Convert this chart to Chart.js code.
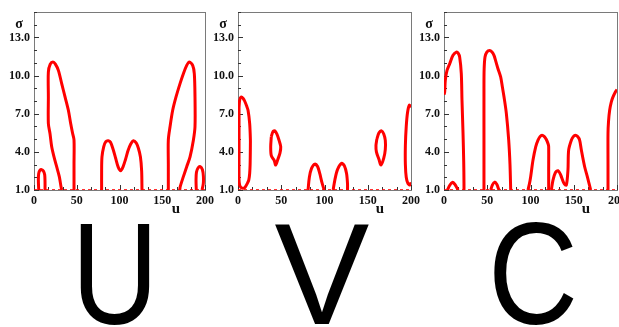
<!DOCTYPE html>
<html>
<head>
<meta charset="utf-8">
<script src="https://cdn.jsdelivr.net/npm/chart.js@4.4.1/dist/chart.umd.min.js"></script>
<style>
  html, body { margin: 0; padding: 0; background: #ffffff; }
  #wrap { position: relative; width: 619px; height: 327px; overflow: hidden; background: #fff; }
  canvas { position: absolute; top: 0; }
  .big { position: absolute; width: 200px; text-align: center; font-family: "Liberation Sans", Arial, sans-serif;
         font-size: 145px; line-height: 145px; top: 202px; color: #000; transform-origin: 50% 50%; }
</style>
</head>
<body>
<div id="wrap">
  <canvas id="c1" width="215" height="222" style="left:0px"></canvas>
  <canvas id="c2" width="215" height="222" style="left:205px"></canvas>
  <canvas id="c3" width="209" height="222" style="left:410px"></canvas>
  <div class="big" id="L1" style="left:15px; transform: scaleX(0.83);">U</div>
  <div class="big" id="L2" style="left:221.5px; transform: scaleX(0.98);">V</div>
  <div class="big" id="L3" style="left:432.5px; transform: scaleX(0.86);">C</div>
</div>
<script>
// ---------- axis / tick data ----------
const xTickValues = [0, 50, 100, 150, 200];
const yTickValues = [1, 4, 7, 10, 13];
const xRange = [0, 200];
const yRange = [1, 15];
const panelLetters = ["U", "V", "C"];
const xAxisTitle = "u";
const yAxisTitle = "σ";

// ---------- panel U contours: [u, sigma] ----------
const U_leftTall = [[32.4,1.0],[31.5,1.3],[29.6,2.05],[26.5,2.83],[23.4,3.61],[20.7,4.4],[18.7,5.44],[16.8,6.23],[16.8,8.3],[16.8,10.28],[19,10.9],[22.2,11.07],[25,10.9],[28.5,10.41],[32.4,9.37],[36.3,8.32],[40.2,7.27],[42.9,6.23],[45.2,5.44],[46.8,4.92],[46.8,3.0],[46.8,1.0]];
const U_leftSmall = [[5.5,1.0],[5.1,1.8],[5.5,2.3],[7,2.55],[9,2.6],[11,2.5],[12.5,2.2],[12.9,1.6],[12.9,1.0]];
const U_middle = [[79.1,1],[79.1,2.5],[79.5,3.6],[81.5,4.4],[84,4.8],[86.9,4.87],[89.5,4.75],[92.5,4.2],[95.5,3.5],[98.5,2.8],[101.4,2.52],[104,2.8],[107,3.4],[110,4.1],[113,4.6],[116.2,4.87],[119.5,4.7],[122,4.3],[124.5,3.6],[125.9,2.5],[126.3,1]];
const U_rightTall = [[157.1,1],[157.1,3],[157.1,4.92],[159.1,5.97],[162.2,7.27],[166.1,8.32],[170.8,9.37],[174.7,10.15],[178.6,10.8],[181.7,11.07],[185.6,10.8],[187.5,10.15],[188.3,8.32],[188.3,5.97],[186.4,4.92],[182.5,3.61],[178.6,2.83],[174.7,2.05],[171,1.26],[170.5,1]];
const U_rightSmall = [[189.8,1],[189.5,1.8],[190,2.4],[192,2.75],[194.5,2.83],[197,2.6],[198.1,2.1],[198,1.5],[196.5,1]];

// ---------- panel V contours ----------
const V_leftLoop = [[1.2,7.5],[2,8.1],[3.9,8.32],[6,8.2],[7.7,8.0],[10,7.6],[11.6,7.27],[13.5,6.23],[14.3,5],[14.3,4.4],[14,3],[13.5,2.31],[12.5,1.8],[10.8,1.52],[8,1.2],[5.8,1.13],[3.5,1.2],[1.9,1.39],[1.2,1.8],[1.2,4],[1.2,7.5]];
const V_ovalLeft = [[38.5,5.2],[40.5,5.6],[42.5,5.65],[45,5.4],[47.5,4.9],[49.4,4.4],[48.5,3.9],[46,3.4],[43.6,2.96],[42,3.3],[38.5,3.7],[37.8,4.4],[38.5,5.2]];
const V_humpLeft = [[81,1],[82.5,2],[85,2.7],[88.8,3.04],[92,2.85],[94.5,2.3],[97,1.6],[99.6,1]];
const V_humpRight = [[110,1],[112,1.8],[115,2.6],[119.7,3.09],[123,2.9],[125.5,2.3],[126.6,1.5],[126.6,1]];
const V_ovalRight = [[160.5,5.0],[163,5.5],[166,5.65],[168.5,5.4],[170.3,4.9],[170.3,4.2],[168.5,3.5],[165.3,2.96],[163,3.4],[160,4.0],[159.5,4.5],[160.5,5.0]];
const V_rightEdge = [[200,7.5],[198.1,7.67],[196,7.1],[194.5,6],[193.5,4.5],[193.5,3],[194.5,2],[196.5,1.5],[199,1.4],[200,1.6]];

// ---------- panel C contours ----------
const C_leftTall = [[0,8.5],[0.8,8.71],[1.5,9.63],[3.5,10.4],[6.6,10.93],[10.4,11.59],[14.3,11.85],[16.5,11.75],[18.1,11.46],[20,10.15],[20.8,8.06],[22,5.44],[22.8,3.2],[23.1,1.52],[23.1,1]];
const C_leftBump = [[4,1],[6.5,1.35],[9.6,1.6],[12.5,1.45],[15.5,1.1],[16.5,1]];
const C_midTall = [[46.2,1],[46.2,5],[46.2,9],[46.4,10.5],[47.4,11.46],[49.5,11.85],[52.8,11.98],[55.5,11.85],[57.8,11.59],[60,11.1],[62.4,10.54],[65.5,9.89],[67.5,9.1],[69.4,8.32],[72.1,7.01],[74.8,4.92],[76.3,3],[77.1,1]];
const C_midBump = [[54,1],[56,1.4],[58.6,1.62],[61,1.45],[63,1.1],[63.5,1]];
const C_hump1 = [[97.1,1],[98.5,1.4],[100.2,2.05],[102.9,3.35],[106,4.4],[108.7,4.92],[111,5.2],[113.3,5.31],[116,5.2],[118.3,4.97],[120.5,4.6],[121,4.4],[121,2.5],[121,1]];
const C_hump2 = [[124.1,1],[126,1.78],[128.7,2.36],[131.8,2.52],[134.9,2.18],[138.7,1.52],[141.4,1.39],[143.3,2.57],[144.1,4.14],[147.2,4.92],[149.5,5.2],[151.8,5.31],[154.5,5.2],[156.8,4.92],[158.8,4.14],[162.6,2.83],[165.7,2.05],[169.6,1]];
const C_rightEdge = [[189.6,1],[189.6,3],[189.6,5.44],[190.2,6.4],[191.5,7.27],[193.3,7.9],[195.4,8.32],[198.1,8.71],[200,8.9]];

const bottomLine = [[0,1],[200,1]];

const panels = [
  { id: "c1", yWidth: 34, padRight: 10, curves: [U_leftTall, U_leftSmall, U_middle, U_rightTall, U_rightSmall] },
  { id: "c2", yWidth: 33, padRight: 9,  curves: [V_leftLoop, V_ovalLeft, V_humpLeft, V_humpRight, V_ovalRight, V_rightEdge] },
  { id: "c3", yWidth: 34, padRight: 2,  curves: [C_leftTall, C_leftBump, C_midTall, C_midBump, C_hump1, C_hump2, C_rightEdge] }
];

const LABEL_FONT = { family: "'Liberation Serif', 'Times New Roman', serif", size: 12, weight: "bold" };

const framePlugin = {
  id: "frameTicks",
  beforeDatasetsDraw(chart) {
    const { ctx, chartArea: a, scales: { x, y } } = chart;
    ctx.save();
    ctx.strokeStyle = "#7a7a7a";
    ctx.lineWidth = 1;
    ctx.strokeRect(Math.round(a.left) + 0.5, Math.round(a.top) + 0.5, Math.round(a.right - a.left), Math.round(a.bottom - a.top));
    ctx.strokeStyle = "#333";
    ctx.beginPath();
    for (let v = yRange[0]; v <= yRange[1]; v += 1) {
      const py = Math.round(y.getPixelForValue(v)) + 0.5;
      const len = yTickValues.includes(v) ? 5 : 3;
      ctx.moveTo(a.left, py); ctx.lineTo(a.left + len, py);
    }
    for (let i = 0; i <= 12; i++) {
      const v = i * 50 / 3;
      const px = Math.round(x.getPixelForValue(v)) + 0.5;
      const len = (i % 3 === 0) ? 5 : 3;
      ctx.moveTo(px, a.bottom); ctx.lineTo(px, a.bottom - len);
    }
    ctx.stroke();
    ctx.restore();
  },
  afterDraw(chart) {
    const { ctx, chartArea: a } = chart;
    ctx.save();
    ctx.fillStyle = "#111";
    ctx.textAlign = "center";
    ctx.textBaseline = "middle";
    ctx.font = "bold 14px 'Liberation Serif', serif";
    ctx.fillText(yAxisTitle, a.left - 15, a.top + 12);
    ctx.font = "bold 15px 'Liberation Serif', serif";
    ctx.fillText(xAxisTitle, a.left + 142, a.bottom + 19);
    ctx.restore();
  }
};

panels.forEach(p => {
  const datasets = p.curves.map(c => ({
    data: c.map(([u, s]) => ({ x: u, y: s })),
    showLine: true, borderColor: "#ff0000", borderWidth: 3, pointRadius: 0,
    tension: 0.3, fill: false
  }));
  datasets.push({
    data: bottomLine.map(([u, s]) => ({ x: u, y: s })),
    showLine: true, borderColor: "rgba(255,0,0,0.8)", borderWidth: 2, borderDash: [3, 3],
    pointRadius: 0, fill: false
  });
  new Chart(document.getElementById(p.id), {
    type: "scatter",
    data: { datasets },
    plugins: [framePlugin],
    options: {
      responsive: false, animation: false, events: [],
      layout: { padding: { left: 0, top: 12, right: p.padRight, bottom: 0 } },
      plugins: { legend: { display: false }, tooltip: { enabled: false } },
      scales: {
        x: {
          type: "linear", min: xRange[0], max: xRange[1],
          grid: { display: false, drawTicks: false }, border: { display: false },
          ticks: { font: LABEL_FONT, color: "#111", padding: 4, maxRotation: 0, autoSkip: false },
          afterBuildTicks: s => { s.ticks = xTickValues.map(v => ({ value: v })); },
          afterFit: s => { s.height = 32; s.paddingLeft = 0; s.paddingRight = 0; }
        },
        y: {
          type: "linear", min: yRange[0], max: yRange[1],
          grid: { display: false, drawTicks: false }, border: { display: false },
          ticks: { font: LABEL_FONT, color: "#111", padding: 4, autoSkip: false, callback: v => Number(v).toFixed(1) },
          afterBuildTicks: s => { s.ticks = yTickValues.map(v => ({ value: v })); },
          afterFit: s => { s.width = p.yWidth; s.paddingTop = 0; s.paddingBottom = 0; }
        }
      }
    }
  });
});
</script>
</body>
</html>
